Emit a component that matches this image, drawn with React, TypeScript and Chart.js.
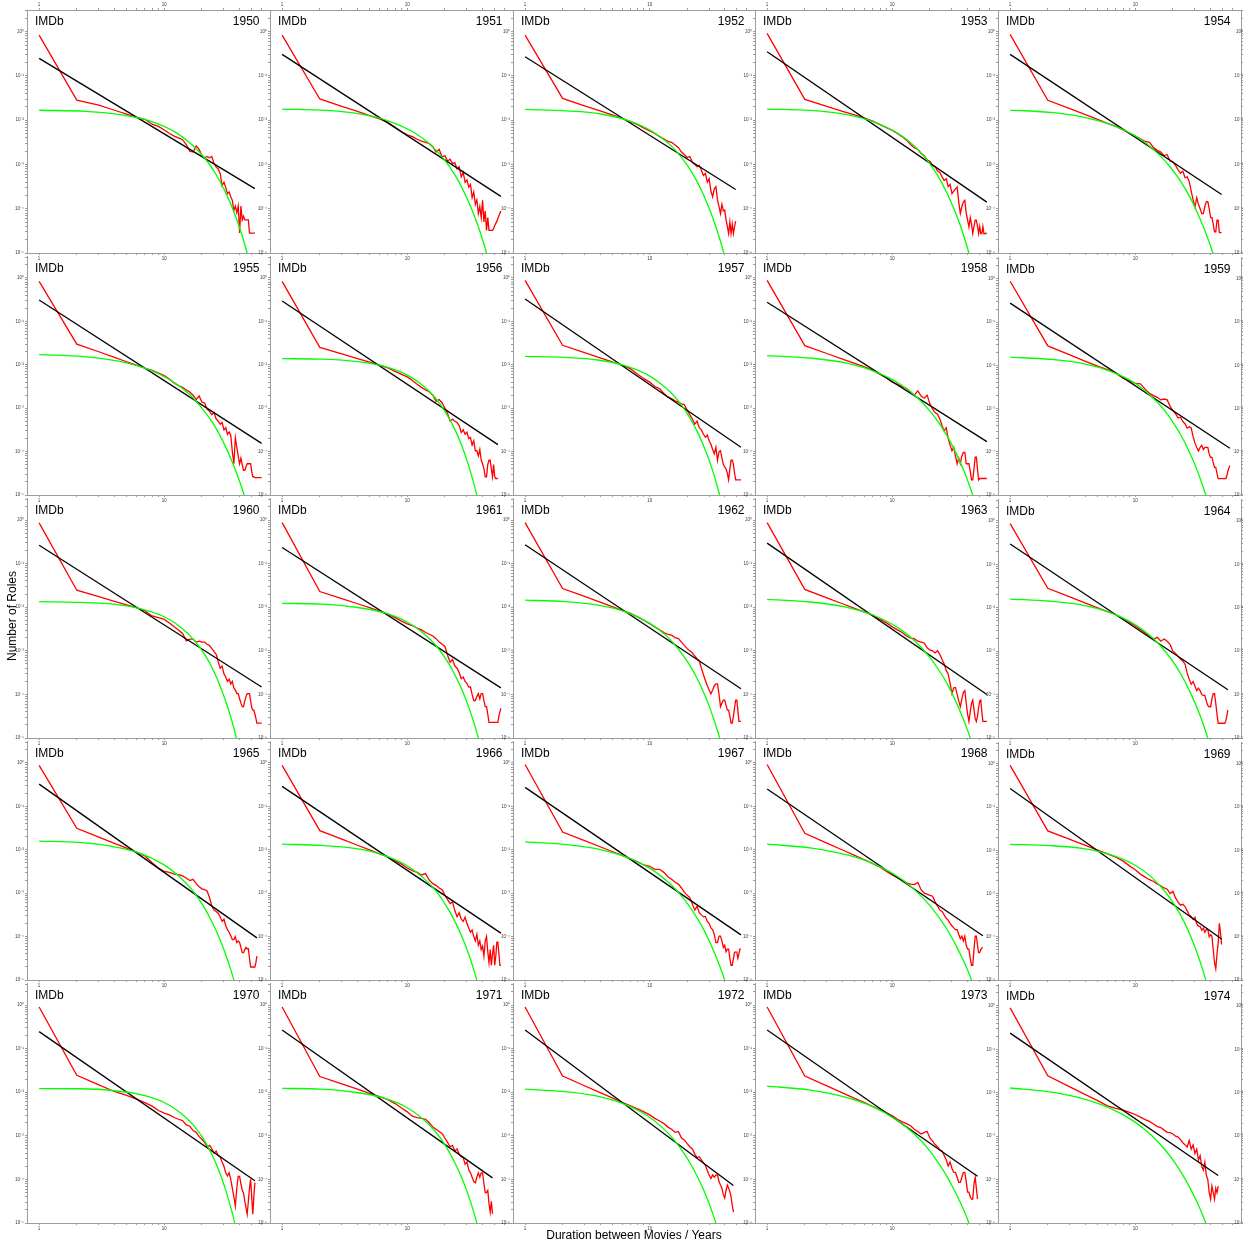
import React, { useEffect, useRef } from "react";
import { Chart, registerables } from "chart.js";
Chart.register(...registerables);

// ---------------- data (log10 of share of roles) ----------------
const years = [1950, 1951, 1952, 1953, 1954, 1955, 1956, 1957, 1958, 1959, 1960, 1961, 1962, 1963, 1964, 1965, 1966, 1967, 1968, 1969, 1970, 1971, 1972, 1973, 1974];

// empirical distribution (red): value for duration 1, 2, 3, ... years
const red1950 = [-0.076,-1.545,-1.66,-1.775,-1.86,-1.935,-1.98,-2.09,-2.14,-2.22,-2.30,-2.36,-2.40,-2.44,-2.55,-2.70,-2.72,-2.58,-2.66,-2.80,-2.85,-2.82,-2.85,-2.82,-2.98,-3.06,-3.10,-3.21,-3.48,-3.40,-3.52,-3.66,-3.62,-3.73,-3.81,-4.04,-3.94,-4.09,-3.94,-4.55,-3.94,-4.25,-4.17,-4.25,-4.25,-4.25,-4.25,-4.55,-4.55,-4.55,-4.55,-4.55,-4.55];
const red1951 = [-0.076,-1.52,-1.685,-1.80,-1.895,-1.97,-2.05,-2.16,-2.26,-2.33,-2.37,-2.43,-2.47,-2.50,-2.53,-2.60,-2.72,-2.66,-2.83,-2.80,-2.92,-2.88,-2.98,-2.96,-3.10,-3.05,-3.28,-3.18,-3.40,-3.35,-3.51,-3.45,-3.75,-3.62,-3.90,-3.80,-4.11,-3.95,-4.20,-3.81,-4.30,-4.05,-4.49,-4.20,-4.49,-4.49,-4.49,-4.49,-4.45,-4.38,-4.33,-4.28,-4.22,-4.16,-4.10,-4.05];
const red1952 = [-0.076,-1.508,-1.675,-1.79,-1.88,-1.96,-2.03,-2.10,-2.18,-2.24,-2.30,-2.37,-2.42,-2.48,-2.50,-2.56,-2.62,-2.72,-2.78,-2.84,-2.82,-2.95,-3.00,-3.05,-3.02,-3.13,-3.25,-3.20,-3.40,-3.32,-3.60,-3.73,-3.55,-3.50,-3.80,-3.95,-4.11,-3.90,-4.05,-4.03,-4.25,-4.40,-4.56,-4.30,-4.56,-4.35,-4.56,-4.40,-4.28];
const red1953 = [-0.038,-1.53,-1.687,-1.80,-1.88,-1.955,-2.02,-2.10,-2.17,-2.23,-2.30,-2.37,-2.45,-2.55,-2.62,-2.66,-2.75,-2.80,-2.90,-2.93,-3.02,-3.05,-3.15,-3.18,-3.28,-3.36,-3.32,-3.50,-3.45,-3.66,-3.60,-3.55,-3.51,-3.85,-4.11,-3.95,-3.85,-3.81,-4.10,-4.26,-4.41,-4.20,-4.35,-4.56,-4.40,-4.26,-4.26,-4.40,-4.56,-4.40,-4.56,-4.56,-4.40,-4.56,-4.56,-4.56,-4.56];
const red1954 = [-0.06,-1.55,-1.74,-1.875,-1.98,-2.07,-2.14,-2.22,-2.30,-2.36,-2.42,-2.48,-2.50,-2.62,-2.68,-2.72,-2.80,-2.78,-2.92,-2.94,-3.02,-3.12,-3.20,-3.15,-3.30,-3.28,-3.39,-3.60,-3.80,-3.96,-3.75,-3.90,-4.00,-4.11,-4.11,-3.95,-3.84,-3.84,-4.00,-4.20,-4.20,-4.35,-4.52,-4.52,-4.26,-4.26,-4.54,-4.54,-4.54];
const red1955 = [-0.077,-1.525,-1.70,-1.83,-1.93,-2.01,-2.08,-2.13,-2.19,-2.25,-2.33,-2.42,-2.48,-2.52,-2.58,-2.63,-2.70,-2.80,-2.72,-2.86,-2.88,-3.02,-3.07,-3.15,-3.10,-3.25,-3.30,-3.37,-3.33,-3.50,-3.45,-3.60,-3.55,-3.62,-4.00,-4.28,-3.68,-3.90,-4.10,-4.28,-4.15,-4.30,-4.43,-4.43,-4.35,-4.28,-4.28,-4.28,-4.28,-4.45,-4.58,-4.58,-4.60,-4.60,-4.60,-4.60,-4.60,-4.60,-4.60,-4.60];
const red1956 = [-0.077,-1.60,-1.75,-1.857,-1.94,-2.008,-2.07,-2.15,-2.22,-2.28,-2.36,-2.45,-2.52,-2.58,-2.62,-2.70,-2.84,-2.80,-2.88,-3.00,-3.12,-3.30,-3.25,-3.30,-3.33,-3.40,-3.56,-3.50,-3.60,-3.55,-3.70,-3.67,-3.85,-3.75,-3.98,-3.98,-4.10,-3.95,-4.20,-4.28,-4.40,-4.58,-4.58,-4.30,-4.20,-4.20,-4.40,-4.58,-4.30,-4.58,-4.62,-4.62,-4.62];
const red1957 = [-0.054,-1.55,-1.72,-1.84,-1.935,-2.01,-2.09,-2.22,-2.32,-2.40,-2.50,-2.55,-2.66,-2.74,-2.78,-2.83,-2.86,-2.90,-2.92,-3.05,-3.15,-3.25,-3.37,-3.30,-3.45,-3.50,-3.60,-3.67,-3.62,-3.75,-3.83,-3.95,-4.05,-3.90,-4.20,-4.00,-3.98,-4.15,-4.30,-4.35,-4.40,-4.50,-4.65,-4.40,-4.20,-4.20,-4.30,-4.50,-4.65,-4.65,-4.65,-4.65,-4.65,-4.65];
const red1958 = [-0.054,-1.56,-1.74,-1.87,-1.97,-2.05,-2.13,-2.22,-2.30,-2.40,-2.45,-2.50,-2.55,-2.62,-2.70,-2.60,-2.72,-2.77,-2.70,-2.90,-3.02,-3.10,-3.14,-3.25,-3.40,-3.52,-3.45,-3.70,-3.85,-3.98,-3.90,-4.10,-4.28,-4.15,-4.28,-4.10,-4.02,-4.02,-4.28,-4.28,-4.28,-4.45,-4.65,-4.65,-4.40,-4.13,-4.13,-4.40,-4.65,-4.62,-4.62,-4.62,-4.62,-4.62,-4.62,-4.62,-4.62];
const red1959 = [-0.054,-1.55,-1.76,-1.908,-2.02,-2.10,-2.18,-2.30,-2.36,-2.42,-2.43,-2.55,-2.65,-2.70,-2.74,-2.80,-2.78,-2.80,-2.95,-3.05,-3.12,-3.22,-3.20,-3.30,-3.35,-3.45,-3.42,-3.45,-3.65,-3.80,-3.90,-3.98,-3.90,-3.85,-3.95,-3.90,-3.90,-3.90,-4.05,-4.13,-4.13,-4.25,-4.36,-4.36,-4.50,-4.62,-4.62,-4.62,-4.62,-4.62,-4.62,-4.62,-4.62,-4.55,-4.45,-4.38,-4.32];
const red1960 = [-0.064,-1.61,-1.758,-1.863,-1.945,-2.01,-2.08,-2.20,-2.24,-2.28,-2.36,-2.45,-2.52,-2.60,-2.77,-2.73,-2.73,-2.80,-2.78,-2.80,-2.80,-2.85,-2.88,-2.95,-3.02,-3.08,-3.25,-3.40,-3.35,-3.53,-3.60,-3.70,-3.65,-3.76,-3.70,-3.85,-3.90,-3.98,-3.98,-4.10,-4.20,-4.28,-4.28,-4.15,-4.05,-3.98,-3.98,-3.98,-4.15,-4.30,-4.36,-4.36,-4.45,-4.55,-4.66,-4.66,-4.66,-4.66,-4.66,-4.66];
const red1961 = [-0.06,-1.64,-1.805,-1.92,-2.01,-2.09,-2.16,-2.24,-2.32,-2.38,-2.42,-2.48,-2.52,-2.58,-2.62,-2.66,-2.72,-2.80,-2.85,-2.90,-3.10,-3.26,-3.20,-3.35,-3.40,-3.50,-3.64,-3.60,-3.70,-3.75,-3.83,-3.83,-4.00,-4.14,-4.14,-4.05,-3.98,-4.10,-3.98,-3.98,-4.15,-4.28,-4.28,-4.45,-4.64,-4.64,-4.64,-4.64,-4.64,-4.64,-4.64,-4.64,-4.64,-4.50,-4.40,-4.32];
const red1962 = [-0.06,-1.57,-1.753,-1.883,-1.985,-2.07,-2.14,-2.22,-2.30,-2.38,-2.45,-2.52,-2.58,-2.62,-2.64,-2.70,-2.72,-2.80,-2.88,-2.95,-3.00,-3.05,-3.12,-3.18,-3.23,-3.40,-3.55,-3.68,-3.80,-3.90,-3.99,-3.90,-3.80,-3.76,-3.76,-4.00,-4.28,-4.20,-4.13,-4.13,-4.25,-4.36,-4.36,-4.50,-4.66,-4.66,-4.50,-4.30,-4.13,-4.13,-4.35,-4.62,-4.62,-4.62];
const red1963 = [-0.06,-1.59,-1.783,-1.92,-2.026,-2.11,-2.18,-2.28,-2.36,-2.45,-2.52,-2.58,-2.66,-2.71,-2.72,-2.78,-2.80,-2.82,-2.93,-2.98,-3.00,-3.05,-3.00,-3.08,-3.20,-3.30,-3.45,-3.53,-3.75,-3.98,-3.85,-3.84,-4.00,-4.15,-4.28,-4.10,-3.95,-3.91,-4.20,-4.45,-4.62,-4.40,-4.20,-4.13,-4.35,-4.55,-4.62,-4.50,-4.30,-4.15,-4.13,-4.40,-4.62,-4.62,-4.62,-4.62,-4.62];
const red1964 = [-0.06,-1.55,-1.75,-1.892,-2.002,-2.09,-2.16,-2.24,-2.34,-2.42,-2.50,-2.58,-2.65,-2.72,-2.68,-2.77,-2.72,-2.77,-2.85,-3.00,-3.05,-3.12,-3.18,-3.23,-3.30,-3.50,-3.65,-3.76,-3.70,-3.80,-3.91,-3.85,-3.91,-4.00,-4.02,-4.02,-4.15,-4.25,-4.28,-4.28,-4.10,-3.98,-3.98,-4.20,-4.45,-4.66,-4.66,-4.66,-4.66,-4.66,-4.66,-4.66,-4.60,-4.48,-4.36];
const red1965 = [-0.057,-1.505,-1.708,-1.851,-1.963,-2.054,-2.14,-2.30,-2.42,-2.50,-2.52,-2.56,-2.57,-2.60,-2.65,-2.71,-2.68,-2.78,-2.85,-2.90,-2.92,-2.95,-3.10,-3.30,-3.39,-3.42,-3.46,-3.55,-3.65,-3.60,-3.75,-3.84,-3.90,-3.98,-4.07,-4.07,-4.00,-4.14,-4.10,-4.14,-4.25,-4.37,-4.37,-4.30,-4.25,-4.28,-4.28,-4.50,-4.70,-4.70,-4.70,-4.70,-4.70,-4.60,-4.45];
const red1966 = [-0.057,-1.56,-1.756,-1.896,-2.004,-2.093,-2.16,-2.25,-2.33,-2.42,-2.48,-2.52,-2.58,-2.55,-2.70,-2.78,-2.82,-2.88,-2.92,-3.05,-3.15,-3.24,-3.20,-3.40,-3.54,-3.45,-3.60,-3.65,-3.55,-3.70,-3.80,-3.90,-3.85,-4.00,-4.10,-3.95,-4.20,-4.10,-4.30,-4.22,-4.45,-4.10,-4.00,-4.35,-4.60,-4.30,-4.66,-4.40,-4.20,-4.66,-4.45,-4.13,-4.13,-4.40,-4.66,-4.66];
const red1967 = [-0.035,-1.59,-1.789,-1.93,-2.04,-2.13,-2.21,-2.28,-2.35,-2.38,-2.45,-2.45,-2.52,-2.62,-2.68,-2.75,-2.79,-2.88,-2.98,-3.05,-3.10,-3.25,-3.39,-3.30,-3.45,-3.50,-3.54,-3.54,-3.65,-3.70,-3.80,-3.84,-3.95,-4.14,-4.14,-3.99,-3.99,-4.10,-4.25,-4.20,-4.35,-4.29,-4.29,-4.50,-4.66,-4.66,-4.50,-4.36,-4.36,-4.36,-4.50,-4.40,-4.29,-4.29];
const red1968 = [-0.035,-1.62,-1.845,-2.005,-2.13,-2.23,-2.32,-2.40,-2.50,-2.58,-2.64,-2.70,-2.76,-2.79,-2.80,-2.75,-2.92,-3.00,-3.02,-3.05,-3.07,-3.20,-3.30,-3.39,-3.42,-3.50,-3.58,-3.62,-3.70,-3.75,-3.80,-3.84,-3.84,-3.95,-4.05,-3.99,-4.10,-3.99,-4.20,-4.29,-4.29,-4.50,-4.66,-4.66,-4.30,-3.99,-3.99,-4.20,-4.37,-4.37,-4.30,-4.26,-4.26];
const red1969 = [-0.035,-1.55,-1.746,-1.886,-1.994,-2.083,-2.16,-2.25,-2.36,-2.45,-2.55,-2.62,-2.68,-2.72,-2.78,-2.82,-2.87,-2.90,-3.00,-2.95,-3.10,-3.20,-3.27,-3.25,-3.30,-3.40,-3.50,-3.53,-3.60,-3.55,-3.70,-3.76,-3.76,-3.85,-3.80,-3.90,-3.83,-3.83,-4.00,-3.95,-3.99,-4.30,-4.60,-4.74,-4.40,-4.14,-3.69,-3.90,-4.18];
const red1970 = [-0.044,-1.61,-1.83,-1.983,-2.07,-2.16,-2.24,-2.32,-2.42,-2.48,-2.52,-2.58,-2.62,-2.65,-2.75,-2.78,-2.88,-2.92,-3.02,-3.08,-3.15,-3.25,-3.22,-3.30,-3.40,-3.35,-3.45,-3.48,-3.60,-3.70,-3.85,-3.92,-3.85,-4.00,-4.20,-4.40,-4.61,-4.20,-3.93,-3.93,-4.10,-4.25,-4.31,-4.50,-4.65,-4.80,-4.50,-4.20,-4.00,-4.40,-4.80,-4.40,-4.07];
const red1971 = [-0.044,-1.64,-1.81,-1.931,-2.025,-2.10,-2.17,-2.26,-2.36,-2.45,-2.55,-2.58,-2.60,-2.62,-2.70,-2.80,-2.85,-2.90,-2.95,-3.05,-3.15,-3.25,-3.22,-3.35,-3.30,-3.42,-3.48,-3.50,-3.65,-3.60,-3.78,-3.85,-3.95,-4.05,-4.08,-3.95,-3.85,-3.95,-3.85,-3.85,-4.10,-4.30,-4.30,-4.25,-4.55,-4.75,-4.50,-4.79];
const red1972 = [-0.044,-1.63,-1.851,-2.008,-2.13,-2.23,-2.31,-2.38,-2.45,-2.52,-2.60,-2.66,-2.72,-2.80,-2.85,-2.92,-2.90,-3.05,-3.10,-3.18,-3.25,-3.30,-3.42,-3.50,-3.48,-3.55,-3.62,-3.68,-3.80,-3.90,-3.98,-3.90,-3.95,-3.90,-3.90,-4.05,-4.13,-4.20,-4.35,-4.43,-4.25,-4.13,-4.20,-4.28,-4.40,-4.60,-4.75];
const red1973 = [-0.044,-1.63,-1.855,-2.015,-2.14,-2.24,-2.33,-2.40,-2.47,-2.54,-2.62,-2.68,-2.72,-2.77,-2.85,-2.90,-2.96,-2.92,-2.90,-3.05,-3.12,-3.20,-3.25,-3.32,-3.35,-3.45,-3.55,-3.69,-3.60,-3.75,-3.84,-3.84,-3.95,-4.07,-4.07,-3.95,-3.84,-3.84,-4.05,-4.29,-4.29,-4.40,-4.45,-4.45,-4.10,-3.95,-4.20,-4.45];
const red1974 = [-0.044,-1.61,-1.863,-2.043,-2.18,-2.30,-2.36,-2.40,-2.45,-2.50,-2.56,-2.62,-2.66,-2.72,-2.78,-2.80,-2.86,-2.91,-2.92,-2.95,-3.00,-3.02,-3.08,-3.15,-3.20,-3.25,-3.10,-3.30,-3.20,-3.40,-3.30,-3.55,-3.45,-3.70,-3.78,-3.60,-3.90,-4.00,-4.30,-4.45,-4.15,-4.30,-4.45,-4.20,-4.30,-4.15];
const redSeries = [red1950, red1951, red1952, red1953, red1954, red1955, red1956, red1957, red1958, red1959, red1960, red1961, red1962, red1963, red1964, red1965, red1966, red1967, red1968, red1969, red1970, red1971, red1972, red1973, red1974];

// curved fit (green): [duration, log10 value]
const green1950 = [[1,-1.775],[2.35,-1.8],[4.6,-1.88],[7.75,-2.02],[12.25,-2.27],[16.75,-2.56],[21.25,-2.87],[25.75,-3.21],[30.25,-3.58],[34.75,-3.96],[39.25,-4.36],[43.75,-4.78],[48.25,-5.22]];
const green1951 = [[1,-1.75],[2.26,-1.78],[4.36,-1.87],[7.3,-2.03],[11.5,-2.29],[15.7,-2.58],[19.9,-2.9],[24.1,-3.24],[28.3,-3.61],[32.5,-3.99],[36.7,-4.38],[40.9,-4.79],[45.1,-5.21]];
const green1952 = [[1,-1.757],[2.15,-1.79],[4.06,-1.86],[6.75,-2.01],[10.58,-2.26],[14.4,-2.54],[18.24,-2.86],[22.07,-3.2],[25.9,-3.57],[29.7,-3.96],[33.56,-4.36],[37.4,-4.78],[41.2,-5.22]];
const green1953 = [[1,-1.75],[2.2,-1.78],[4.2,-1.87],[7,-2.03],[11,-2.29],[15,-2.58],[19,-2.9],[23,-3.24],[27,-3.61],[31,-3.99],[35,-4.38],[39,-4.79],[43,-5.21]];
const green1954 = [[1,-1.77],[2.22,-1.83],[4.26,-1.96],[7.1,-2.15],[11.18,-2.44],[15.25,-2.76],[19.3,-3.08],[23.4,-3.41],[27.5,-3.75],[31.5,-4.1],[35.6,-4.46],[39.7,-4.82],[43.7,-5.18]];
const green1955 = [[1,-1.766],[2.28,-1.81],[4.4,-1.92],[7.38,-2.1],[11.63,-2.38],[15.88,-2.68],[20.13,-3.01],[24.4,-3.34],[28.6,-3.69],[32.9,-4.06],[37.1,-4.43],[41.4,-4.81],[45.6,-5.2]];
const green1956 = [[1,-1.86],[2.05,-1.87],[3.8,-1.92],[6.25,-2.02],[9.75,-2.22],[13.25,-2.47],[16.75,-2.76],[20.25,-3.1],[23.75,-3.46],[27.25,-3.86],[30.75,-4.3],[34.25,-4.76],[37.75,-5.25]];
const green1957 = [[1,-1.806],[2.07,-1.83],[3.84,-1.89],[6.33,-2.02],[9.88,-2.25],[13.43,-2.53],[16.98,-2.83],[20.5,-3.17],[24.1,-3.54],[27.6,-3.93],[31.2,-4.34],[34.7,-4.78],[38.3,-5.23]];
const green1958 = [[1,-1.79],[2.29,-1.85],[4.44,-1.97],[7.45,-2.17],[11.75,-2.46],[16.05,-2.77],[20.35,-3.09],[24.65,-3.42],[28.95,-3.76],[33.25,-4.11],[37.55,-4.46],[41.85,-4.82],[46.15,-5.18]];
const green1959 = [[1,-1.81],[2.07,-1.86],[3.85,-1.96],[6.34,-2.14],[9.9,-2.41],[13.46,-2.72],[17.02,-3.03],[20.58,-3.37],[24.14,-3.71],[27.7,-4.07],[31.26,-4.43],[34.82,-4.81],[38.38,-5.19]];
const green1960 = [[1,-1.873],[2.1,-1.89],[3.94,-1.93],[6.5,-2.04],[10.18,-2.23],[13.85,-2.48],[17.5,-2.77],[21.2,-3.1],[24.9,-3.47],[28.5,-3.87],[32.2,-4.3],[35.9,-4.76],[39.5,-5.25]];
const green1961 = [[1,-1.91],[2.08,-1.93],[3.88,-2.0],[6.4,-2.12],[10,-2.34],[13.6,-2.61],[17.2,-2.9],[20.8,-3.23],[24.4,-3.59],[28,-3.96],[31.6,-4.36],[35.2,-4.78],[38.8,-5.22]];
const green1962 = [[1,-1.836],[2.07,-1.87],[3.84,-1.95],[6.33,-2.1],[9.88,-2.36],[13.43,-2.64],[16.98,-2.96],[20.5,-3.29],[24.1,-3.64],[27.6,-4.01],[31.2,-4.4],[34.7,-4.8],[38.3,-5.21]];
const green1963 = [[1,-1.82],[2.23,-1.88],[4.28,-2.0],[7.15,-2.19],[11.25,-2.48],[15.35,-2.79],[19.45,-3.11],[23.55,-3.44],[27.65,-3.77],[31.75,-4.12],[35.85,-4.47],[39.95,-4.82],[44.05,-5.18]];
const green1964 = [[1,-1.8],[2.11,-1.85],[3.96,-1.95],[6.55,-2.13],[10.25,-2.41],[13.95,-2.71],[17.65,-3.03],[21.35,-3.36],[25.05,-3.71],[28.75,-4.07],[32.45,-4.43],[36.15,-4.81],[39.85,-5.19]];
const green1965 = [[1,-1.8],[2.05,-1.83],[3.8,-1.92],[6.25,-2.07],[9.75,-2.33],[13.25,-2.62],[16.75,-2.93],[20.25,-3.27],[23.75,-3.63],[27.25,-4.0],[30.75,-4.39],[34.25,-4.79],[37.75,-5.21]];
const green1966 = [[1,-1.87],[2.05,-1.9],[3.8,-1.97],[6.25,-2.11],[9.75,-2.35],[13.25,-2.63],[16.75,-2.93],[20.25,-3.27],[23.75,-3.62],[27.25,-3.99],[30.75,-4.38],[34.25,-4.79],[37.75,-5.21]];
const green1967 = [[1,-1.82],[2.17,-1.88],[4.12,-2.0],[6.85,-2.19],[10.75,-2.48],[14.65,-2.79],[18.55,-3.11],[22.45,-3.44],[26.35,-3.77],[30.25,-4.12],[34.15,-4.47],[38.05,-4.82],[41.95,-5.18]];
const green1968 = [[1,-1.87],[2.26,-1.96],[4.36,-2.12],[7.3,-2.34],[11.5,-2.65],[15.7,-2.97],[19.9,-3.28],[24.1,-3.59],[28.3,-3.9],[32.5,-4.22],[36.7,-4.53],[40.9,-4.84],[45.1,-5.16]];
const green1969 = [[1,-1.86],[2.07,-1.89],[3.85,-1.96],[6.34,-2.1],[9.9,-2.34],[13.46,-2.62],[17.02,-2.93],[20.58,-3.26],[24.14,-3.61],[27.7,-3.99],[31.26,-4.38],[34.82,-4.79],[38.38,-5.21]];
const green1970 = [[1,-1.915],[2.07,-1.92],[3.85,-1.96],[6.34,-2.05],[9.9,-2.23],[13.46,-2.47],[17.02,-2.75],[20.58,-3.07],[24.14,-3.44],[27.7,-3.84],[31.26,-4.28],[34.82,-4.75],[38.38,-5.26]];
const green1971 = [[1,-1.91],[2.05,-1.93],[3.8,-2.0],[6.25,-2.12],[9.75,-2.34],[13.25,-2.61],[16.75,-2.9],[20.25,-3.23],[23.75,-3.59],[27.25,-3.96],[30.75,-4.36],[34.25,-4.78],[37.75,-5.22]];
const green1972 = [[1,-1.93],[1.99,-1.98],[3.64,-2.08],[5.95,-2.25],[9.25,-2.51],[12.55,-2.8],[15.85,-3.11],[19.15,-3.43],[22.45,-3.76],[25.75,-4.1],[29.05,-4.45],[32.35,-4.82],[35.65,-5.19]];
const green1973 = [[1,-1.86],[2.2,-1.95],[4.2,-2.11],[7,-2.33],[11,-2.65],[15,-2.96],[19,-3.27],[23,-3.59],[27,-3.9],[31,-4.22],[35,-4.53],[39,-4.84],[43,-5.16]];
const green1974 = [[1,-1.89],[2.07,-1.98],[3.85,-2.14],[6.34,-2.36],[9.9,-2.67],[13.46,-2.98],[17.02,-3.29],[20.58,-3.6],[24.14,-3.91],[27.7,-4.22],[31.26,-4.53],[34.82,-4.84],[38.38,-5.16]];
const greenSeries = [green1950, green1951, green1952, green1953, green1954, green1955, green1956, green1957, green1958, green1959, green1960, green1961, green1962, green1963, green1964, green1965, green1966, green1967, green1968, green1969, green1970, green1971, green1972, green1973, green1974];

// power-law fit (black): log10 value at duration 1 and at the last duration
const blackStart = [-0.602,-0.513,-0.566,-0.453,-0.513,-0.508,-0.53,-0.485,-0.56,-0.56,-0.577,-0.63,-0.567,-0.53,-0.53,-0.487,-0.54,-0.563,-0.6,-0.57,-0.61,-0.572,-0.572,-0.572,-0.625];
const blackEnd = [-3.545,-3.72,-3.567,-3.85,-3.68,-3.81,-3.84,-3.9,-3.77,-3.92,-3.83,-3.85,-3.87,-4.0,-3.89,-4.03,-3.92,-3.96,-3.98,-4.05,-4.03,-3.965,-4.139,-3.928,-3.905];

// ticks
const xTickValues = [1, 2, 3, 4, 5, 6, 7, 8, 9, 10, 20, 30, 40, 50, 60];
const xTickText = ["1", "", "", "", "", "", "", "", "", "10", "", "", "", "", ""];
const yTickDecades = [-5, -4, -3, -2, -1, 0];
const yTickDecadeText = ["10\u207B\u2075", "10\u207B\u2074", "10\u207B\u00B3", "10\u207B\u00B2", "10\u207B\u00B9", "10\u2070"];
const yTickMantissas = [1, 2, 3, 4, 5, 6, 7, 8, 9];

// ---------------- layout ----------------
const COLS = [27, 270, 513, 755, 998, 1241];
const ROWS = [10, 253, 495, 738, 980, 1223];
const X_MIN = 0.8, X_MAX = 70, Y_MIN = 1e-5, Y_MAX = 3.09;
const FRAME = "#9c9c9c";
const TICK_TEXT = "#3a3a3a";
const FONT = '"Liberation Sans", Arial, Helvetica, sans-serif';
const TICK_FONT = { size: 4.5, family: FONT };

const yTickList: { value: number; text: string }[] = [];
yTickDecades.forEach((d, di) => {
  yTickMantissas.forEach((m) => {
    const value = m * Math.pow(10, d);
    if (value < Y_MAX) yTickList.push({ value, text: m === 1 ? yTickDecadeText[di] : "" });
  });
});

const titlePlugin = {
  id: "panelTitle",
  afterDraw(chart: any, _args: any, opts: any) {
    const { ctx, chartArea } = chart;
    ctx.save();
    ctx.font = `12px ${FONT}`;
    ctx.fillStyle = "#000";
    ctx.textBaseline = "alphabetic";
    ctx.textAlign = "left";
    ctx.fillText("IMDb", chartArea.left + 8, chartArea.top + 15);
    ctx.textAlign = "right";
    ctx.fillText(String(opts.year), chartArea.right - 10.5, chartArea.top + 15);
    ctx.restore();
  },
};

function xAxis(position: string, size: number) {
  return {
    type: "logarithmic",
    position,
    min: X_MIN,
    max: X_MAX,
    border: { display: true, color: FRAME, width: 1 },
    grid: { display: true, drawOnChartArea: false, drawTicks: true, tickLength: 2, tickColor: FRAME, tickWidth: 1 },
    ticks: {
      autoSkip: false, maxRotation: 0, minRotation: 0, padding: 1, color: TICK_TEXT, font: TICK_FONT,
      callback: (_v: any, i: number) => xTickText[i],
    },
    afterBuildTicks: (s: any) => { s.ticks = xTickValues.map((value) => ({ value })); },
    afterFit: (s: any) => { s.height = size; },
  };
}

function yAxis(position: string, size: number, mirror: boolean) {
  return {
    type: "logarithmic",
    position,
    min: Y_MIN,
    max: Y_MAX,
    border: { display: true, color: FRAME, width: 1 },
    grid: { display: true, drawOnChartArea: false, drawTicks: true, tickLength: 2, tickColor: FRAME, tickWidth: 1 },
    ticks: {
      autoSkip: false, mirror, padding: mirror ? 2 : 1, color: TICK_TEXT, font: TICK_FONT,
      callback: (_v: any, i: number) => (yTickList[i] ? yTickList[i].text : ""),
    },
    afterBuildTicks: (s: any) => { s.ticks = yTickList.map((t) => ({ value: t.value })); },
    afterFit: (s: any) => { s.width = size; },
  };
}

function Panel({ index }: { index: number }) {
  const ref = useRef<HTMLCanvasElement>(null);
  const col = index % 5;
  const row = Math.floor(index / 5);
  const padL = 24, padB = 12;
  const padT = row === 0 ? 12 : 0;
  const padR = col === 4 ? 4 : 0;
  const w = COLS[col + 1] - COLS[col] + padL + padR;
  const h = ROWS[row + 1] - ROWS[row] + padT + padB;

  useEffect(() => {
    const red = redSeries[index];
    const n = red.length;
    const scales: any = {
      x: xAxis("bottom", padB),
      y: yAxis("left", padL, false),
    };
    if (row === 0) scales.xt = xAxis("top", padT);
    if (col === 4) scales.yr = yAxis("right", padR, true);

    const chart = new Chart(ref.current as HTMLCanvasElement, {
      type: "line",
      data: {
        datasets: [
          {
            label: "curved fit",
            data: greenSeries[index].map(([x, v]) => ({ x, y: Math.pow(10, v) })),
            borderColor: "#00ff00",
            borderWidth: 1.3,
            pointRadius: 0,
            cubicInterpolationMode: "monotone",
            fill: false,
          },
          {
            label: "power law",
            data: [
              { x: 1, y: Math.pow(10, blackStart[index]) },
              { x: n, y: Math.pow(10, blackEnd[index]) },
            ],
            borderColor: "#000000",
            borderWidth: 1.3,
            pointRadius: 0,
            tension: 0,
            fill: false,
          },
          {
            label: "IMDb",
            data: red.map((v, k) => ({ x: k + 1, y: Math.pow(10, v) })),
            borderColor: "#ff0000",
            borderWidth: 1.3,
            pointRadius: 0,
            tension: 0,
            fill: false,
          },
        ],
      } as any,
      options: {
        animation: false,
        responsive: false,
        maintainAspectRatio: false,
        devicePixelRatio: 1,
        events: [],
        layout: { autoPadding: false, padding: { top: 0, left: 0, right: 0, bottom: 0 } },
        plugins: {
          legend: { display: false },
          tooltip: { enabled: false },
          panelTitle: { year: years[index] },
        } as any,
        scales,
      } as any,
      plugins: [titlePlugin as any],
    });
    return () => chart.destroy();
  }, []);

  return (
    <canvas
      ref={ref}
      width={w}
      height={h}
      style={{ position: "absolute", left: COLS[col] - padL, top: ROWS[row] - padT, width: w, height: h }}
    />
  );
}

export default function App() {
  return (
    <div
      style={{
        position: "absolute", left: 0, top: 0, width: 1251, height: 1245,
        background: "#ffffff", overflow: "hidden", fontFamily: FONT, color: "#000",
      }}
    >
      {years.map((y, i) => (
        <Panel key={y} index={i} />
      ))}
      <div
        style={{
          position: "absolute", left: 534, top: 1228, width: 200, textAlign: "center",
          fontSize: 12, lineHeight: "14px", whiteSpace: "nowrap",
        }}
      >
        Duration between Movies / Years
      </div>
      <div
        style={{
          position: "absolute", left: -38, top: 609, width: 100, height: 14, textAlign: "center",
          fontSize: 12, lineHeight: "14px", whiteSpace: "nowrap", transform: "rotate(-90deg)",
        }}
      >
        Number of Roles
      </div>
    </div>
  );
}
